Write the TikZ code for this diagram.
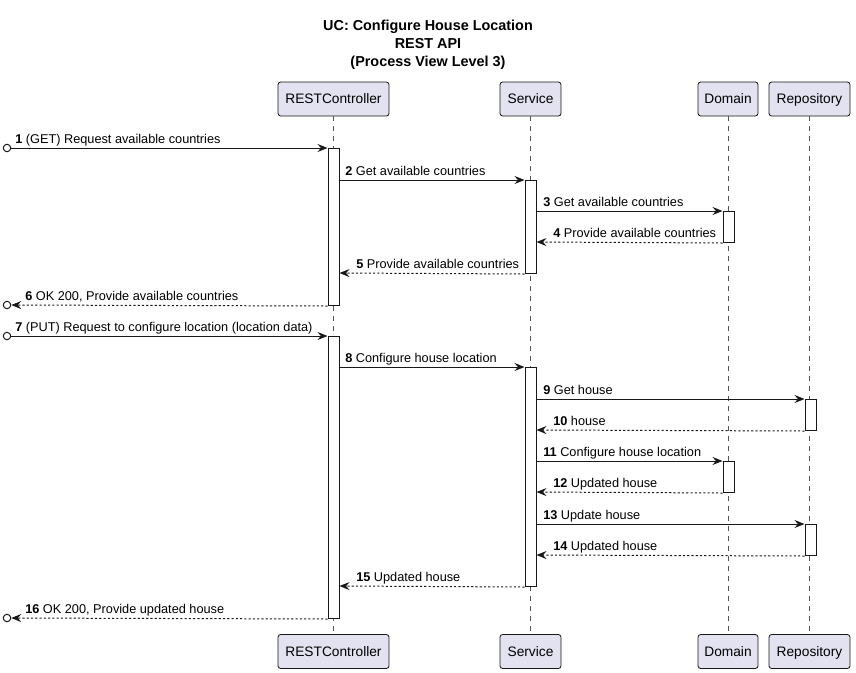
\documentclass[tikz,border=0pt]{standalone}
\usepackage{fontspec}
\setmainfont{Liberation Sans}
\usetikzlibrary{arrows.meta}
\definecolor{partfill}{HTML}{E2E2F0}
\definecolor{lineclr}{HTML}{181818}
\definecolor{lifeclr}{HTML}{555555}
\tikzset{
  part/.style={draw=lineclr, fill=partfill, rounded corners=2pt, minimum height=25.5pt, inner sep=0pt, line width=0.6pt, text height=9.4pt, text depth=2.2pt, font=\fontsize{10.3pt}{12pt}\selectfont},
  lifeline/.style={draw=lifeclr, line width=0.6pt, dash pattern=on 3.75pt off 3.75pt},
  actbar/.style={draw=lineclr, fill=white, minimum width=8.25pt, inner sep=0pt, line width=0.75pt},
  msg/.style={draw=lineclr, line width=0.75pt, -{Stealth[length=7.5pt,width=6pt,inset=2.6pt]}},
  ret/.style={msg, dash pattern=on 1.6pt off 1.6pt},
  endpt/.style={circle, draw=lineclr, fill=white, line width=0.75pt, minimum size=5.6pt, inner sep=0pt},
  lbl/.style={font=\fontsize{9.55pt}{11pt}\selectfont, anchor=base west, inner sep=0pt},
  ttl/.style={font=\fontsize{10.8pt}{12pt}\selectfont\bfseries, anchor=base, inner sep=0pt},
}
\newcommand\mybar[4]{\node[actbar, anchor=north, minimum height={(#4-#3)*0.75pt}] (#1) at (#2,#3) {};}
\begin{document}
\begin{tikzpicture}[x=0.75pt, y=-0.75pt]
\useasboundingbox (0,0) rectangle (856,672);
% title
\node[ttl] (t1) at (428,30) {UC: Configure House Location};
\node[ttl] (t2) at (428,48) {REST API};
\node[ttl] (t3) at (428,66) {(Process View Level 3)};
% participants
\node[part, minimum width=83.25pt] (rcT) at (333.5,99) {RESTController};
\node[part, minimum width=45.75pt] (svT) at (530.5,99) {Service};
\node[part, minimum width=45pt] (dmT) at (728,99) {Domain};
\node[part, minimum width=60.75pt] (rpT) at (809.5,99) {Repository};
\node[part, minimum width=83.25pt] (rcB) at (333.5,651.5) {RESTController};
\node[part, minimum width=45.75pt] (svB) at (530.5,651.5) {Service};
\node[part, minimum width=45pt] (dmB) at (728,651.5) {Domain};
\node[part, minimum width=60.75pt] (rpB) at (809.5,651.5) {Repository};
% lifelines
\draw[lifeline] (rcT) -- (rcB);
\draw[lifeline] (svT) -- (svB);
\draw[lifeline] (dmT) -- (dmB);
\draw[lifeline] (rpT) -- (rpB);
% activation bars
\mybar{rc1}{333.5}{148}{305}
\mybar{rc2}{333.5}{336}{618}
\mybar{sv1}{530.5}{180}{273}
\mybar{sv2}{530.5}{367}{586}
\mybar{dm1}{728.5}{211}{242}
\mybar{dm2}{728.5}{461}{492}
\mybar{rp1}{810.5}{399}{430}
\mybar{rp2}{810.5}{524}{555}
% external end points
\node[endpt] (o1) at (7,148) {};
\node[endpt] (o6) at (7,305) {};
\node[endpt] (o7) at (7,336) {};
\node[endpt] (o16) at (7,618) {};
% messages
\draw[msg] (o1.east) -- (rc1.west |- o1);
\node[lbl] (l1) at (15,143) {\textbf{1} (GET) Request available countries};
\draw[msg] (rc1.east |- 0,180) -- (sv1.north west);
\node[lbl] (l2) at (345,175) {\textbf{2} Get available countries};
\draw[msg] (sv1.east |- 0,211) -- (dm1.north west);
\node[lbl] (l3) at (543,206) {\textbf{3} Get available countries};
\draw[ret] (dm1.south west) -- (sv1.east |- 0,242);
\node[lbl] (l4) at (553,237) {\textbf{4} Provide available countries};
\draw[ret] (sv1.south west) -- (rc1.east |- 0,273);
\node[lbl] (l5) at (356,268) {\textbf{5} Provide available countries};
\draw[ret] (rc1.south west) -- (o6.east);
\node[lbl] (l6) at (25,300) {\textbf{6} OK 200, Provide available countries};
\draw[msg] (o7.east) -- (rc2.north west);
\node[lbl] (l7) at (15,331) {\textbf{7} (PUT) Request to configure location (location data)};
\draw[msg] (rc2.east |- 0,367) -- (sv2.north west);
\node[lbl] (l8) at (345,362) {\textbf{8} Configure house location};
\draw[msg] (sv2.east |- 0,399) -- (rp1.north west);
\node[lbl] (l9) at (543,394) {\textbf{9} Get house};
\draw[ret] (rp1.south west) -- (sv2.east |- 0,430);
\node[lbl] (l10) at (553,425) {\textbf{10} house};
\draw[msg] (sv2.east |- 0,461) -- (dm2.north west);
\node[lbl] (l11) at (543,456) {\textbf{11} Configure house location};
\draw[ret] (dm2.south west) -- (sv2.east |- 0,492);
\node[lbl] (l12) at (553,487) {\textbf{12} Updated house};
\draw[msg] (sv2.east |- 0,524) -- (rp2.north west);
\node[lbl] (l13) at (543,519) {\textbf{13} Update house};
\draw[ret] (rp2.south west) -- (sv2.east |- 0,555);
\node[lbl] (l14) at (553,550) {\textbf{14} Updated house};
\draw[ret] (sv2.south west) -- (rc2.east |- 0,586);
\node[lbl] (l15) at (356,581) {\textbf{15} Updated house};
\draw[ret] (rc2.south west) -- (o16.east);
\node[lbl] (l16) at (25,613) {\textbf{16} OK 200, Provide updated house};
\end{tikzpicture}
\end{document}
